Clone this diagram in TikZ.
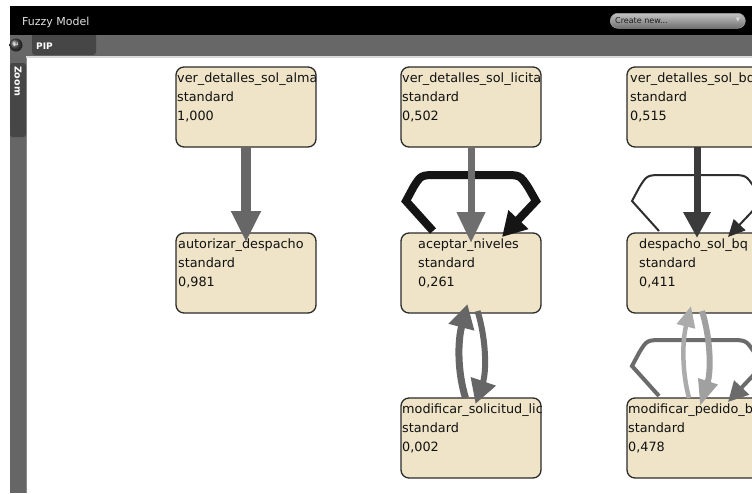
\documentclass[tikz,border=0pt]{standalone}
\usepackage{fontspec}
\setmainfont{DejaVu Sans}
\usetikzlibrary{arrows.meta,calc}

\definecolor{boxfill}{HTML}{EFE4C7}
\definecolor{borderdark}{HTML}{2B2B2B}
\definecolor{textdark}{HTML}{111111}
\definecolor{barGray}{HTML}{676767}
\definecolor{sideGray}{HTML}{666666}
\definecolor{tabDark}{HTML}{464646}
\definecolor{lineLight}{HTML}{D9D9D9}
\definecolor{sideEdge}{HTML}{8A8A8A}
\definecolor{titleText}{HTML}{E2E2E2}
\definecolor{dropTop}{HTML}{C4C4C4}
\definecolor{dropBot}{HTML}{707070}
\definecolor{dropEdge}{HTML}{9A9A9A}
\definecolor{dropText}{HTML}{1C1C1C}
\definecolor{edgeA}{HTML}{676767}
\definecolor{edgeB}{HTML}{6E6E6E}
\definecolor{edgeC}{HTML}{3B3B3B}
\definecolor{loopBlack}{HTML}{151515}
\definecolor{loopThin}{HTML}{2E2E2E}
\definecolor{loopMid}{HTML}{6B6B6B}
\definecolor{pairDark}{HTML}{666666}
\definecolor{pairLightA}{HTML}{ABABAB}
\definecolor{pairLightB}{HTML}{A0A0A0}

% activity box: name, x, y (top-left), text indent, label, value
\newcommand\procbox[6]{%
  \node[pbox] (#1) at (#2,#3) {};
  \begin{scope}
    \clip[rounded corners=8pt] (#1.north west) rectangle (#1.south east);
    \node[ptext] (#1-name) at ($(#1.north west)+(#4,15.5)$) {#5};
    \node[ptext] (#1-kind) at ($(#1.north west)+(#4,34.5)$) {standard};
    \node[ptext] (#1-val)  at ($(#1.north west)+(#4,53.5)$) {#6};
  \end{scope}
  \draw[pborder] (#1.north west) rectangle (#1.south east);
}

% self loop above a box: box name, line options
\newcommand\selfloop[2]{%
  \begin{scope}[shift={(#1.north west)}]
    \draw[#2] (32,-2) -- (5,-32) -- (12.5,-46) .. controls (20,-58) .. (37,-58)
      -- (102,-58) .. controls (119,-58) .. (127,-46) -- (135,-32) -- (101,4);
  \end{scope}}

\begin{document}
\begin{tikzpicture}[x=1pt,y=-1pt,line join=miter,
  pbox/.style={fill=boxfill, rounded corners=8pt, minimum width=140pt,
    minimum height=80pt, inner sep=0pt, outer sep=0pt, anchor=north west},
  ptext/.style={anchor=base west, inner sep=0pt, text=textdark,
    font=\fontsize{12.8}{15}\selectfont},
  pborder/.style={draw=borderdark, line width=1.3pt, rounded corners=8pt},
  uilabel/.style={inner sep=0pt, text=#1}]

\useasboundingbox (0,0) rectangle (752,493);
\clip (0,0) rectangle (752,493);

% window chrome
\fill[white] (0,0) rectangle (752,493);
\fill[barGray] (10,35) rectangle (752,56);
\fill[tabDark, rounded corners=3pt] (32,28) rectangle (96,55);
\fill[black] (10,6) rectangle (752,35);
\fill[sideGray] (10,56) rectangle (26,493);
\fill[lineLight] (26,56) rectangle (752,57.5);
\draw[sideEdge, line width=1pt] (26.5,57.5) -- (26.5,493);
\fill[tabDark, rounded corners=2.5pt] (10,63) rectangle (26,137);

\node[uilabel=titleText, anchor=base west, font=\fontsize{11}{13}\selectfont]
  (title) at (22,25) {Fuzzy Model};
\node[uilabel=white, anchor=base west, font=\bfseries\fontsize{9}{11}\selectfont]
  (pip) at (36,49.5) {PIP};
\node[uilabel=white, rotate=-90, font=\bfseries\fontsize{9.5}{11}\selectfont]
  (zoomlbl) at (18,81) {Zoom};
\node[circle, ball color=gray!55!black, minimum size=13pt, inner sep=0pt,
  text=white, font=\fontsize{7}{8}\selectfont] (back) at (16,45) {↵};

\node[anchor=north west, rounded corners=7.5pt, top color=dropTop,
  bottom color=dropBot, draw=dropEdge, line width=0.6pt,
  minimum width=135pt, minimum height=15pt, inner sep=0pt] (create) at (610,13) {};
\node[uilabel=dropText, anchor=base west, font=\fontsize{8}{9}\selectfont]
  (createlbl) at (615,23.5) {Create new...};
\node[uilabel=lineLight, font=\fontsize{5.5}{6}\selectfont]
  (createarr) at (738,20.5) {▼};

% activity boxes
\procbox{alma}{176}{67}{1}{ver\_detalles\_sol\_alma}{1,000}
\procbox{licita}{401}{67}{1}{ver\_detalles\_sol\_licita}{0,502}
\procbox{bq}{627}{67}{3}{ver\_detalles\_sol\_bq}{0,515}
\procbox{autor}{176}{233}{2}{autorizar\_despacho}{0,981}
\procbox{acept}{401}{233}{17}{aceptar\_niveles}{0,261}
\procbox{desp}{627}{233}{12}{despacho\_sol\_bq}{0,411}
\procbox{modsol}{401}{398}{1}{modificar\_solicitud\_lic}{0,002}
\procbox{modped}{627}{398}{1}{modificar\_pedido\_bq}{0,478}

% self loops
\selfloop{acept}{draw=loopBlack, line width=8pt, -{Triangle[length=24pt,width=26pt]}}
\selfloop{desp}{draw=loopThin, line width=2pt, -{Triangle[length=17pt,width=16pt]}}
\selfloop{modped}{draw=loopMid, line width=4pt, -{Triangle[length=20pt,width=20pt]}}

% straight flows
\draw[draw=edgeA, line width=10pt, -{Triangle[length=31pt,width=28pt]}]
  (alma.south) -- ($(autor.north)+(0,9)$);
\draw[draw=edgeB, line width=7pt, -{Triangle[length=31pt,width=27pt]}]
  (licita.south) -- ($(acept.north)+(0,10)$);
\draw[draw=edgeC, line width=7pt, -{Triangle[length=26pt,width=26pt]}]
  (bq.south) -- ($(desp.north)+(0,5)$);

% two-way flows
\draw[draw=pairDark, line width=7pt, -{Triangle[length=24pt,width=25pt]}]
  ($(modsol.north)+(-5.5,0)$) .. controls ($(modsol.north)+(-13.5,-26)$)
  and ($(acept.south)+(-13.5,29)$) .. ($(acept.south)+(-3.5,-9)$);
\draw[draw=pairDark, line width=6pt, -{Triangle[length=24pt,width=25pt]}]
  ($(acept.south)+(6.5,-2)$) .. controls ($(acept.south)+(15.5,27)$)
  and ($(modsol.north)+(15.5,-26)$) .. ($(modsol.north)+(4.5,6)$);
\draw[draw=pairLightA, line width=4.5pt, -{Triangle[length=21pt,width=18pt]}]
  ($(modped.north)+(-8,0)$) .. controls ($(modped.north)+(-15,-26)$)
  and ($(desp.south)+(-15,29)$) .. ($(desp.south)+(-6,-7)$);
\draw[draw=pairLightB, line width=6pt, -{Triangle[length=26pt,width=19pt]}]
  ($(desp.south)+(5,-2)$) .. controls ($(desp.south)+(14,27)$)
  and ($(modped.north)+(14,-26)$) .. ($(modped.north)+(3,8)$);
\end{tikzpicture}
\end{document}
